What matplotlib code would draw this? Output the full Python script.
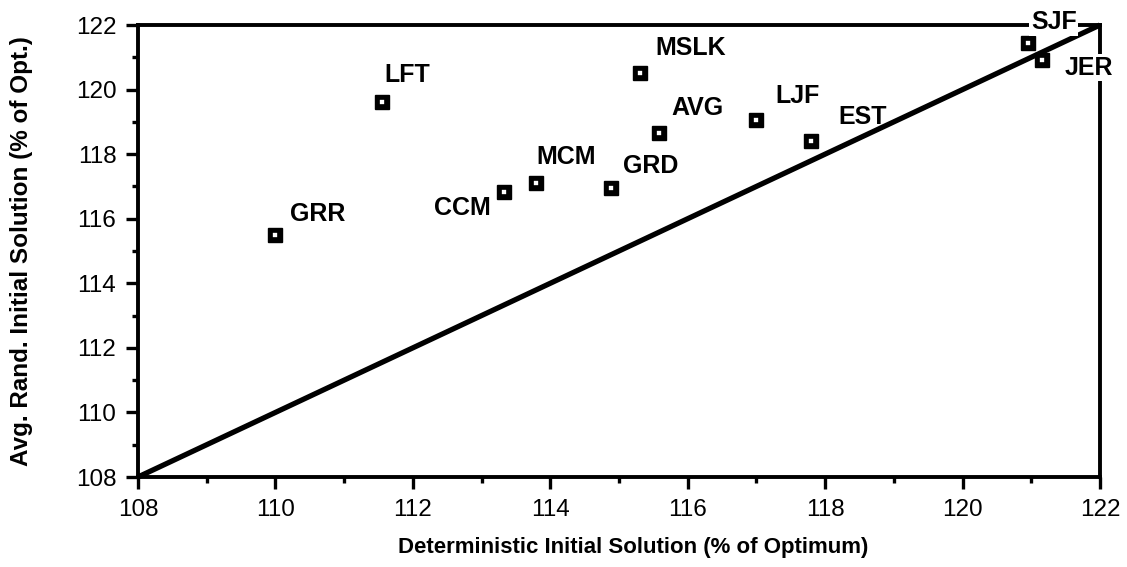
import matplotlib.pyplot as plt
from matplotlib.ticker import MultipleLocator

plt.rcParams['font.family'] = ['Liberation Sans', 'DejaVu Sans']

names = ['GRR', 'LFT', 'CCM', 'MCM', 'GRD', 'MSLK', 'AVG', 'LJF', 'EST', 'SJF', 'JER']
det_init = [110.0, 111.55, 113.32, 113.8, 114.88, 115.3, 115.58, 117.0, 117.8, 120.95, 121.15]
rand_init = [115.5, 119.62, 116.83, 117.1, 116.95, 120.52, 118.66, 119.06, 118.41, 121.44, 120.92]

# label offsets in pixels (dx, dy) from each point
label_offsets = {
    'GRR': (42, 21), 'LFT': (25, 27), 'CCM': (-41, -16), 'MCM': (30, 26),
    'GRD': (40, 22), 'MSLK': (51, 25), 'AVG': (39, 25), 'LJF': (41, 24),
    'EST': (51, 24), 'SJF': (26, 21), 'JER': (47, -8),
}

fig = plt.figure(figsize=(11.27, 5.67), dpi=100)
ax = fig.add_axes([0.1224, 0.1587, 0.8536, 0.7972])

ax.plot([108, 122], [108, 122], color='black', lw=3.8, clip_on=False,
        solid_capstyle='butt', zorder=2)
ax.plot(det_init, rand_init, 's', ms=10.5, color='black', zorder=3, clip_on=False)
ax.plot(det_init, rand_init, 's', ms=4.2, mfc='white', mec='black', mew=1.2,
        zorder=4, clip_on=False)

for n, x, y in zip(names, det_init, rand_init):
    dx, dy = label_offsets[n]
    bbox = None
    if n in ('SJF', 'JER'):
        bbox = dict(facecolor='white', edgecolor='none', pad=1)
    ax.annotate(n, (x, y), xytext=(dx * 0.72, dy * 0.72), textcoords='offset points',
                ha='center', va='center', fontsize=18, fontweight='bold',
                bbox=bbox, zorder=6, annotation_clip=False)

ax.set_xlim(108, 122)
ax.set_ylim(108, 122)
ax.xaxis.set_major_locator(MultipleLocator(2))
ax.xaxis.set_minor_locator(MultipleLocator(1))
ax.yaxis.set_major_locator(MultipleLocator(2))
ax.yaxis.set_minor_locator(MultipleLocator(1))
ax.tick_params(which='major', direction='out', length=8.6, width=2.4, labelsize=17.5, pad=7)
ax.tick_params(which='minor', direction='out', length=4.3, width=2.4)
for s in ax.spines.values():
    s.set_linewidth(2.8)
    s.set_zorder(1)

ax.set_xlabel('Deterministic Initial Solution (% of Optimum)', fontsize=16,
              fontweight='bold', va='center')
ax.set_ylabel('Avg. Rand. Initial Solution (% of Opt.)', fontsize=17.5,
              fontweight='bold', va='center')
ax.xaxis.set_label_coords(0.515, -0.157)
ax.yaxis.set_label_coords(-0.1206, 0.5)

fig.savefig('out.png', dpi=100)
